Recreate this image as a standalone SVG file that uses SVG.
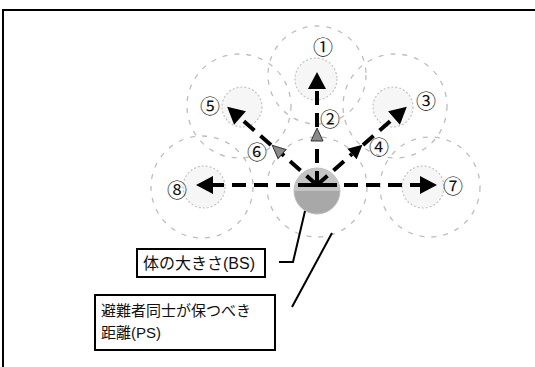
<svg xmlns="http://www.w3.org/2000/svg" width="535" height="367" viewBox="0 0 535 367">
<style>
.ps{fill:none;stroke:#bdbdbd;stroke-width:1.3;stroke-dasharray:5 7}
.bs{fill:#f6f6f6;stroke:#c4c4c4;stroke-width:1.2;stroke-dasharray:2 2}
.sh{stroke:#000;stroke-width:4;stroke-dasharray:14 8;fill:none}
.num{font-family:"Noto Sans CJK JP","DejaVu Sans",sans-serif;font-size:20px;fill:#111;text-anchor:middle}
.lbl{font-family:"Liberation Sans","Noto Sans CJK JP",sans-serif;fill:#111}
.box{fill:#fff;stroke:#000;stroke-width:2}
.ld{stroke:#000;stroke-width:2;fill:none}
</style>
<defs>
<marker id="ah" markerUnits="userSpaceOnUse" markerWidth="20" markerHeight="20" viewBox="0 -10 20 20" refX="0" refY="0" orient="auto" overflow="visible">
<path d="M0,-9 L17,0 L0,9 Z" fill="#000"/>
</marker>
<marker id="am" markerUnits="userSpaceOnUse" markerWidth="16" markerHeight="16" viewBox="0 -8 16 16" refX="0" refY="0" orient="auto" overflow="visible">
<path d="M0,-7 L14,0 L0,7 Z" fill="#000"/>
</marker>
<marker id="ag" markerUnits="userSpaceOnUse" markerWidth="16" markerHeight="16" viewBox="0 -8 16 16" refX="0" refY="0" orient="auto" overflow="visible">
<path d="M0,-6 L13,0 L0,6 Z" fill="#8a8a8a" stroke="#333" stroke-width="1"/>
</marker>
</defs>
<rect x="3" y="10" width="545" height="370" fill="none" stroke="#000" stroke-width="2"/>

<g id="circles">
<circle class="ps" cx="317" cy="187" r="50"/>
<circle class="ps" cx="317" cy="75" r="49"/>
<circle class="ps" cx="395" cy="106" r="52"/>
<circle class="ps" cx="239" cy="106" r="52"/>
<circle class="ps" cx="430" cy="187" r="50"/>
<circle class="ps" cx="202" cy="187" r="51"/>
<circle class="bs" cx="316" cy="79" r="21"/>
<circle class="bs" cx="393" cy="107" r="20"/>
<circle class="bs" cx="242" cy="107" r="20"/>
<circle class="bs" cx="423" cy="187" r="21"/>
<circle class="bs" cx="204" cy="187" r="21"/>
</g>

<g id="center">
<circle cx="317" cy="191" r="23" fill="#a8a8a8" stroke="#bdbdbd" stroke-width="1"/>
<path d="M294,191 A23,23 0 0 1 340,191 Z" fill="#c4c4c4"/>
</g>

<g id="connectors">
<line class="sh" x1="317" y1="185" x2="317" y2="141" marker-end="url(#ag)"/>
<line class="sh" x1="317" y1="127" x2="317" y2="89" stroke-dasharray="6 4" marker-end="url(#ah)"/>
<line class="sh" x1="317" y1="185" x2="352" y2="154" marker-end="url(#am)"/>
<line class="sh" x1="363" y1="145" x2="394" y2="118" stroke-dasharray="6 5" marker-end="url(#ah)"/>
<line class="sh" x1="317" y1="185" x2="282" y2="154" marker-end="url(#ag)"/>
<line class="sh" x1="271" y1="145" x2="240" y2="118" stroke-dasharray="12 6" marker-end="url(#ah)"/>
<line class="sh" x1="300" y1="185" x2="420" y2="185" marker-end="url(#ah)"/>
<line class="sh" x1="334" y1="185" x2="213" y2="185" marker-end="url(#ah)"/>
<line x1="299" y1="185" x2="337" y2="185" stroke="#000" stroke-width="4"/>
<polyline class="ld" points="305,211 293,262 279,262"/>
<line class="ld" x1="332" y1="233" x2="292" y2="307"/>
</g>

<g id="labels">
<text class="num" x="323" y="55">①</text>
<text class="num" x="330" y="127">②</text>
<text class="num" x="426" y="109">③</text>
<text class="num" x="379" y="155">④</text>
<text class="num" x="210" y="114">⑤</text>
<text class="num" x="257" y="160">⑥</text>
<text class="num" x="453" y="194">⑦</text>
<text class="num" x="177" y="198">⑧</text>
</g>

<g id="bs-box">
<rect class="box" x="137" y="249" width="128" height="28"/>
<text class="lbl" x="143" y="269" font-size="16">体の大きさ(BS)</text>
</g>
<g id="ps-box">
<rect class="box" x="95" y="295" width="180" height="55"/>
<text class="lbl" x="101" y="316" font-size="15">避難者同士が保つべき</text>
<text class="lbl" x="101" y="338" font-size="15">距離(PS)</text>
</g>
</svg>
